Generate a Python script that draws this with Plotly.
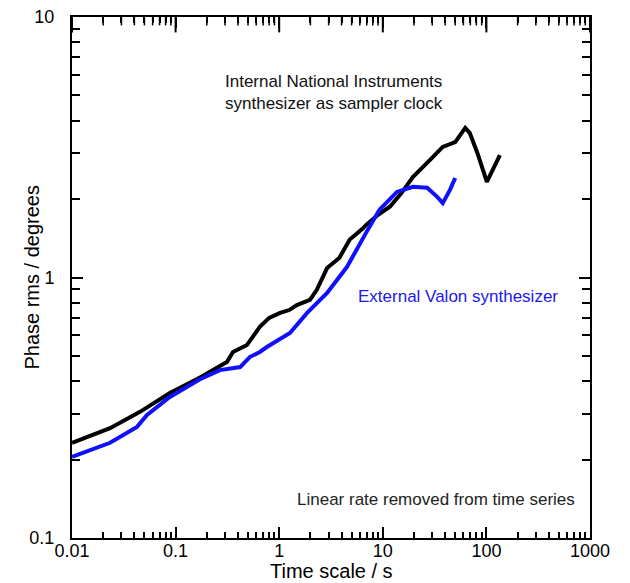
import plotly.graph_objects as go

# Internal National Instruments synthesizer (black)
ni_tau = [0.01, 0.0233, 0.0453, 0.088, 0.172, 0.313, 0.358, 0.489, 0.65, 0.8, 1.02, 1.25, 1.48, 1.98, 2.3, 2.9,
          3.8, 4.8, 6.4, 7.0, 9.0, 11.7, 15.0, 19.5, 28.6, 37.9, 50, 62.5, 69, 82, 101, 116, 135]
ni_rms = [0.232, 0.264, 0.305, 0.360, 0.413, 0.474, 0.518, 0.551, 0.646, 0.70, 0.731, 0.75, 0.784, 0.820, 0.895, 1.087,
          1.188, 1.40, 1.54, 1.60, 1.74, 1.87, 2.10, 2.43, 2.83, 3.17, 3.31, 3.75, 3.59, 3.0, 2.33, 2.63, 2.95]

# External Valon synthesizer (blue)
valon_tau = [0.01, 0.0233, 0.0424, 0.053, 0.088, 0.172, 0.268, 0.35, 0.42, 0.52, 0.65, 0.76, 1.27, 1.86, 2.9,
             4.5, 6.3, 7.0, 9.3, 13.7, 19.5, 26.8, 33.5, 37.9, 44.5, 50]
valon_rms = [0.205, 0.232, 0.267, 0.297, 0.348, 0.407, 0.441, 0.448, 0.453, 0.495, 0.518, 0.541, 0.612, 0.731, 0.872,
             1.097, 1.40, 1.50, 1.82, 2.13, 2.23, 2.21, 2.04, 1.93, 2.17, 2.41]

x_ticks = [0.01, 0.1, 1, 10, 100, 1000]
x_labels = ["0.01", "0.1", "1", "10", "100", "1000"]
y_ticks = [0.1, 1, 10]
y_labels = ["0.1", "1", "10"]

# minor tick positions of the log x axis (2..9 in each decade), for the top edge
x_minor = [m * t for t in x_ticks[:-1] for m in range(2, 10)]

FONT = "Liberation Sans, Arial, sans-serif"

fig = go.Figure()
fig.add_trace(go.Scatter(x=ni_tau, y=ni_rms, mode="lines",
                         line=dict(color="black", width=4), showlegend=False))
fig.add_trace(go.Scatter(x=valon_tau, y=valon_rms, mode="lines",
                         line=dict(color="#1010ff", width=4), showlegend=False))

# top-edge tick marks (clipped to the plot area so they hang inward)
fig.add_trace(go.Scatter(x=x_ticks, y=[y_ticks[-1]] * len(x_ticks), mode="markers", cliponaxis=True,
                         marker=dict(symbol="line-ns", size=22, color="black", line=dict(width=2, color="black")),
                         hoverinfo="skip", showlegend=False))
fig.add_trace(go.Scatter(x=x_minor, y=[y_ticks[-1]] * len(x_minor), mode="markers", cliponaxis=True,
                         marker=dict(symbol="line-ns", size=12, color="black", line=dict(width=1.5, color="black")),
                         hoverinfo="skip", showlegend=False))

common = dict(type="log", showgrid=False, zeroline=False, automargin=False, showline=True,
              mirror="allticks", linecolor="black", linewidth=2, tickcolor="black", tickwidth=2,
              ticks="inside", ticklen=11, layer="above traces",
              tickfont=dict(family=FONT, size=18, color="black"))

fig.update_layout(
    xaxis=dict(**common, range=[-2, 3], tickvals=x_ticks, ticktext=x_labels, ticklabelstandoff=-5,
               minor=dict(ticks="inside", ticklen=6, tickwidth=1.5, tickcolor="black", dtick="D1")),
    yaxis=dict(**common, range=[-1, 1], tickvals=y_ticks, ticktext=y_labels, ticklabelstandoff=12,
               minor=dict(ticks="inside", ticklen=8, tickwidth=1.5, tickcolor="black", dtick="D1")),
)

# axis titles as paper annotations
fig.add_annotation(x=0.5, y=-0.064, xref="paper", yref="paper", yanchor="middle",
                   text="Time scale / s", showarrow=False,
                   font=dict(family=FONT, size=20, color="black"))
fig.add_annotation(x=-0.079, y=0.5, xref="paper", yref="paper", xanchor="center", yanchor="middle",
                   text="Phase rms / degrees", showarrow=False, textangle=-90,
                   font=dict(family=FONT, size=20, color="black"))
fig.add_annotation(x=0.505, y=0.856, xref="paper", yref="paper", yanchor="middle",
                   text="Internal National Instruments<br>synthesizer as sampler clock",
                   showarrow=False, align="center",
                   font=dict(family=FONT, size=17, color="#111111"))
fig.add_annotation(x=0.549, y=0.463, xref="paper", yref="paper", xanchor="left", yanchor="middle",
                   text="External Valon synthesizer", showarrow=False,
                   font=dict(family=FONT, size=17, color="#1a1aee"))
fig.add_annotation(x=0.975, y=0.073, xref="paper", yref="paper", xanchor="right", yanchor="middle",
                   text="Linear rate removed from time series", showarrow=False,
                   font=dict(family=FONT, size=17, color="#222222"))

fig.update_layout(width=630, height=583, plot_bgcolor="rgba(0,0,0,0)", paper_bgcolor="white",
                  margin=dict(l=72, r=40, t=17, b=45), showlegend=False)

fig.write_html("out.html", config={"displayModeBar": False})
